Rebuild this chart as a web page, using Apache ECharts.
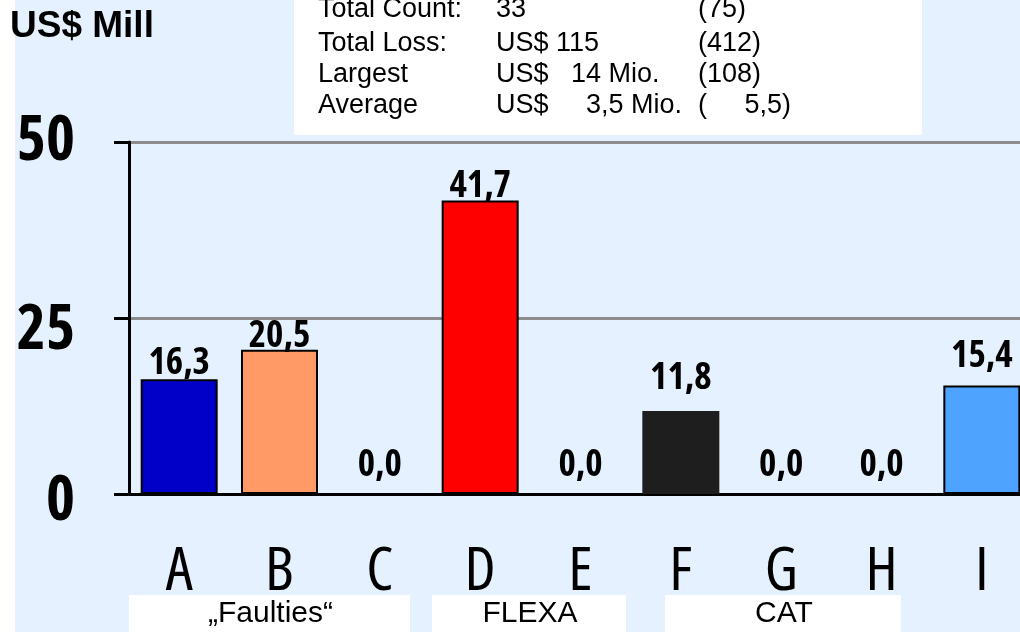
<!DOCTYPE html>
<html>
<head>
<meta charset="utf-8">
<script src="https://cdn.jsdelivr.net/npm/echarts@6/dist/echarts.min.js"></script>
<style>
  html, body { margin: 0; padding: 0; background: #fff; }
  #chart { width: 1020px; height: 632px; }
</style>
</head>
<body>
<div id="chart"></div>
<script>
// data
const categories = ['A', 'B', 'C', 'D', 'E', 'F', 'G', 'H', 'I'];
const lossValues = [16.3, 20.5, 0, 41.7, 0, 11.8, 0, 0, 15.4];
const yTicks = [0, 25, 50];
const groupNames = ['„Faulties“', 'FLEXA', 'CAT'];
const statLabels = ['Total Count:', 'Total Loss:', 'Largest', 'Average'];
const statValues = ['33', 'US$ 115', 'US$   14 Mio.', 'US$     3,5 Mio.'];
const statPrior = ['(75)', '(412)', '(108)', '(     5,5)'];

// styling
const NARROW = "'Open Sans'";   // used with the 'condensed' stretch keyword
const ARIAL = "'Liberation Sans', Arial, sans-serif";
const barColors = ['#0000C8', '#FF9966', '#FF9966', '#FF0000', '#FF0000', '#1E1E1E', '#1E1E1E', '#1E1E1E', '#4DA3FF'];
const labelGap = [-3, -5, 9, -5, 9, 14, 9, 9, 11];
const groupBoxes = [[129, 281], [432, 194], [665, 236]];

let chart = echarts.init(document.getElementById('chart'));

let barData = lossValues.map(function (v, i) {
  return {
    value: v,
    itemStyle: {
      color: barColors[i],
      borderColor: '#000',
      borderWidth: i === 5 ? 0 : 2
    },
    label: { distance: labelGap[i] }
  };
});

let graphics = [
  { type: 'rect', shape: { x: 0, y: 0, width: 15, height: 632 }, style: { fill: '#fff' }, z: 1 },
  { type: 'rect', shape: { x: 294, y: 0, width: 628, height: 135 }, style: { fill: '#fff' }, z: 1 },
  {
    type: 'text', x: 10, y: 27, z: 5,
    style: { text: 'US$ Mill', font: 'bold 37px ' + ARIAL, fill: '#000', verticalAlign: 'middle' }
  }
];

const rowY = [10, 44, 75, 106];
for (let r = 0; r < statLabels.length; r++) {
  const cols = [[318, statLabels[r]], [496, statValues[r]], [698, statPrior[r]]];
  cols.forEach(function (c) {
    graphics.push({
      type: 'text', x: c[0], y: rowY[r], z: 5,
      style: { text: c[1], font: '27px ' + ARIAL, fill: '#000', verticalAlign: 'middle' }
    });
  });
}

groupBoxes.forEach(function (b, i) {
  graphics.push({ type: 'rect', shape: { x: b[0], y: 595, width: b[1], height: 40 }, style: { fill: '#fff' }, z: 1 });
  graphics.push({
    type: 'text', x: b[0] + b[1] / 2 + 1, y: 614, z: 5,
    style: { text: groupNames[i], font: '30px ' + ARIAL, fill: '#000', align: 'center', verticalAlign: 'middle' }
  });
});

const yLabelStyle = { fontFamily: NARROW, fontWeight: 'bold condensed', fontSize: 62, color: '#000' };

let option = {
  backgroundColor: '#E5F1FE',
  animation: false,
  grid: { left: 129, top: 142, width: 903, height: 352, outerBoundsMode: 'none', containLabel: false },
  xAxis: {
    type: 'category',
    data: categories,
    axisLine: { lineStyle: { color: '#000', width: 3 } },
    axisTick: { show: false },
    axisLabel: { margin: 48, fontFamily: NARROW, fontWeight: 'condensed', fontSize: 61, color: '#000' }
  },
  yAxis: {
    type: 'value',
    min: yTicks[0],
    max: yTicks[yTicks.length - 1],
    interval: 25,
    axisLine: { show: true, lineStyle: { color: '#000', width: 3 } },
    axisTick: { show: true, inside: false, length: 15, lineStyle: { color: '#000', width: 3 } },
    splitLine: { lineStyle: { color: '#8C8C8C', width: 3 } },
    axisLabel: {
      margin: 54,
      formatter: function (v) { return '{v' + v + '|' + v + '}'; },
      rich: {
        v0: Object.assign({ padding: [16, 0, 0, 0] }, yLabelStyle),
        v25: Object.assign({ padding: [26, 0, 0, 0] }, yLabelStyle),
        v50: Object.assign({}, yLabelStyle)
      }
    }
  },
  series: [{
    type: 'bar',
    data: barData,
    barWidth: 77,
    label: {
      show: true,
      position: 'top',
      fontFamily: NARROW,
      fontWeight: 'bold condensed',
      fontSize: 37,
      color: '#000',
      formatter: function (p) { return p.value.toFixed(1).replace('.', ','); }
    }
  }],
  graphic: graphics
};

chart.setOption(option);
</script>
</body>
</html>
